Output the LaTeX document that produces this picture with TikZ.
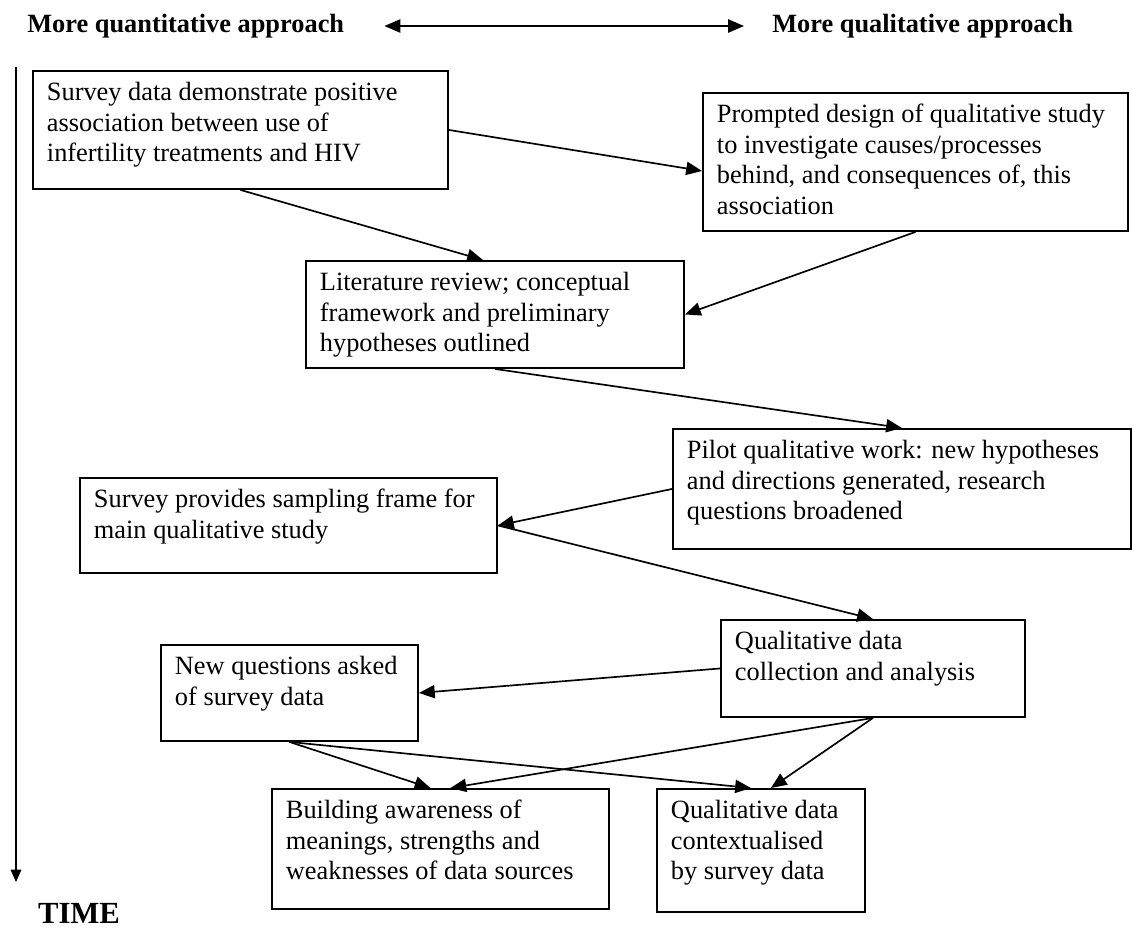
\documentclass[tikz,border=0pt]{standalone}
\usepackage{fontspec}
\setmainfont{Liberation Serif}
\usetikzlibrary{arrows.meta}
\newlength{\pxu}
\setlength{\pxu}{0.02cm}
\newcommand{\boxtext}[3]{\parbox[t][\dimexpr#2\pxu-0.3cm\relax][t]{\dimexpr#1\pxu-0.56cm\relax}{\raggedright\strut#3}}
\begin{document}
\begin{tikzpicture}[x=0.02cm,y=-0.02cm,
  font=\fontsize{15}{17.6}\selectfont,
  stagebox/.style={draw,line width=1.1pt,anchor=north west,inner xsep=0.28cm,inner ysep=0.15cm},
  flow/.style={line width=0.95pt,-{Triangle[length=9pt,width=7.5pt]}},
  heading/.style={font=\fontsize{15}{17.6}\selectfont\bfseries,inner sep=0pt}]
\useasboundingbox (0,0) rectangle (1132,930);
% headings and time axis
\node[heading,anchor=west](quant) at (27,26) {More quantitative approach};
\node[heading,anchor=west](qual) at (772,26) {More qualitative approach};
\draw[line width=0.95pt,{Triangle[length=9pt,width=7.5pt]}-{Triangle[length=9pt,width=7.5pt]}]
  ([xshift=0.8cm]quant.east)--([xshift=-0.56cm]qual.west);
\coordinate(ttop) at (16,67);
\coordinate(tend) at (16,882);
\draw[line width=0.8pt,-{Triangle[length=7pt,width=6pt]}](ttop)--(tend);
\node[heading,font=\fontsize{17.5}{20}\selectfont\bfseries](time) at (79,913) {TIME};
%
\node[stagebox](survey) at (32,70) {\boxtext{415}{118}{Survey data demonstrate positive\\association between use of\\infertility treatments and HIV}};
\node[stagebox](design) at (702,92) {\boxtext{425}{138}{Prompted design of qualitative study\\to investigate causes/processes\\behind, and consequences of, this\\association}};
\node[stagebox](review) at (305,260) {\boxtext{378}{107}{Literature review; conceptual\\framework and preliminary\\hypotheses outlined}};
\node[stagebox](pilot) at (672,428) {\boxtext{458}{120}{Pilot qualitative work: new hypotheses\\and directions generated, research\\questions broadened}};
\node[stagebox](frame) at (79,477) {\boxtext{417}{95}{Survey provides sampling frame for\\main qualitative study}};
\node[stagebox](collect) at (720,619) {\boxtext{304}{97}{Qualitative data\\collection and analysis}};
\node[stagebox](newq) at (160,644) {\boxtext{257}{96}{New questions asked\\of survey data}};
\node[stagebox](aware) at (271,788) {\boxtext{337}{120}{Building awareness of\\meanings, strengths and\\weaknesses of data sources}};
\node[stagebox](context) at (656,788) {\boxtext{208}{123}{Qualitative data\\contextualised\\by survey data}};
%
\draw[flow](survey.east)--([yshift=-0.18cm]design.west);
\draw[flow](survey.south)--([xshift=-0.24cm]review.north);
\draw[flow](design.south)--(review.east);
\draw[flow](review.south)--(pilot.north);
\draw[flow](pilot.west)--(frame.east);
\draw[flow](frame.east)--(collect.north);
\draw[flow](collect.west)--(newq.east);
\draw[flow](newq.south)--([xshift=-0.2cm]aware.north);
\draw[flow](newq.south)--([xshift=-0.2cm]context.north);
\draw[flow](collect.south)--([xshift=0.2cm]aware.north);
\draw[flow](collect.south)--([xshift=0.2cm]context.north);
\end{tikzpicture}
\end{document}
